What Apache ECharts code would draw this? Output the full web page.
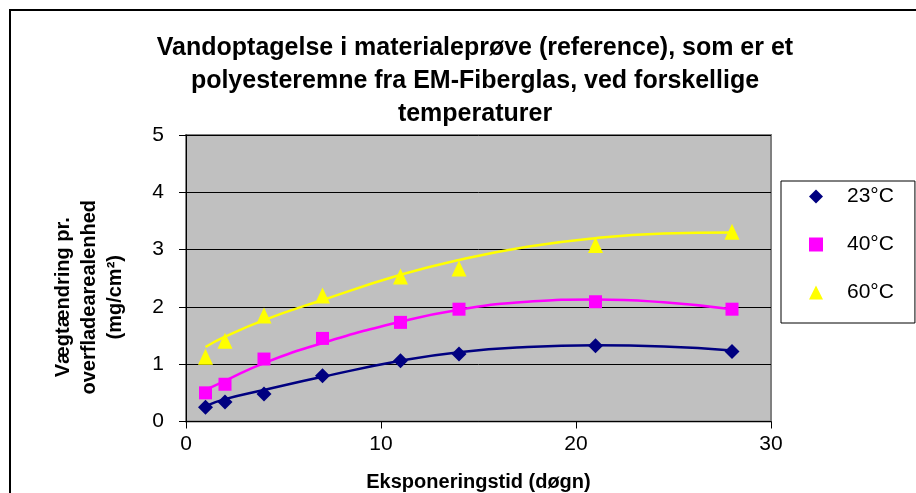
<!DOCTYPE html>
<html>
<head>
<meta charset="utf-8">
<script src="https://cdn.jsdelivr.net/npm/echarts@6/dist/echarts.min.js"></script>
<style>
html,body{margin:0;padding:0;background:#fff;}
#chart{width:916px;height:493px;}
</style>
</head>
<body>
<div id="chart"></div>
<script>
// ---- data ----
const days = [1, 2, 4, 7, 11, 14, 21, 28];
const v23 = [0.25, 0.34, 0.48, 0.80, 1.06, 1.18, 1.32, 1.22];
const v40 = [0.50, 0.65, 1.09, 1.45, 1.73, 1.96, 2.09, 1.96];
const v60 = [1.13, 1.41, 1.85, 2.20, 2.53, 2.67, 3.08, 3.31];
// trendlines
const trendX = [1, 2, 4, 7, 11, 14, 17.5, 21, 24.5, 28];
const trend23 = [0.27, 0.39, 0.55, 0.78, 1.06, 1.21, 1.30, 1.33, 1.31, 1.24];
const trend40 = [0.55, 0.71, 1.02, 1.37, 1.74, 1.95, 2.09, 2.13, 2.08, 1.96];
const trend60 = [1.30, 1.48, 1.77, 2.12, 2.56, 2.82, 3.05, 3.20, 3.28, 3.30];
const seriesNames = ['23°C', '40°C', '60°C'];
const xTicks = [0, 10, 20, 30];
const yTicks = [0, 1, 2, 3, 4, 5];
const titleText = 'Vandoptagelse i materialeprøve (reference), som er et\npolyesteremne fra EM-Fiberglas, ved forskellige\ntemperaturer';
const xTitle = 'Eksponeringstid (døgn)';
const yTitle = 'Vægtændring pr.\noverfladearealenhed\n(mg/cm²)';

const colors = ['#000080', '#FF00FF', '#FFFF00'];
const symbols = ['diamond', 'rect', 'triangle'];
const symSizes = [15, 13, [15, 16]];
const pts = [v23, v40, v60];
const trends = [trend23, trend40, trend60];
const FONT = '"Liberation Sans", Arial, sans-serif';

const zip = (xs, ys) => xs.map((x, i) => [x, ys[i]]);

const series = [];
seriesNames.forEach((n, i) => {
  series.push({
    name: n + ' trend', type: 'line', data: zip(trendX, trends[i]), smooth: true,
    showSymbol: false, symbol: 'none', lineStyle: { color: colors[i], width: 2.5 },
    z: 2, silent: true
  });
});
seriesNames.forEach((n, i) => {
  series.push({
    name: n, type: 'scatter', data: zip(days, pts[i]), symbol: symbols[i],
    symbolSize: symSizes[i], itemStyle: { color: colors[i], opacity: 1 }, z: 3
  });
});

const chart = echarts.init(document.getElementById('chart'), null, { renderer: 'canvas' });
chart.setOption({
  animation: false,
  backgroundColor: '#fff',
  textStyle: { fontFamily: FONT },
  title: {
    text: titleText, left: 470, top: 27, textAlign: 'center',
    textStyle: { fontFamily: FONT, fontWeight: 'bold', fontSize: 25, lineHeight: 33, color: '#000' }
  },
  grid: {
    left: 186, right: 145, top: 135, bottom: 71.5, show: true,
    containLabel: false, outerBoundsMode: 'none',
    backgroundColor: '#C0C0C0', borderColor: '#808080', borderWidth: 2
  },
  legend: {
    orient: 'vertical', left: 781, top: 181,
    data: seriesNames.map((n, i) => ({ name: n, icon: symbols[i] })),
    itemWidth: 14, itemHeight: 14, itemGap: 27,
    padding: [5, 21, 20, 28],
    borderColor: '#000', borderWidth: 1,
    textStyle: { fontFamily: FONT, fontSize: 21, color: '#000', padding: [0, 0, 0, 19] }
  },
  xAxis: {
    type: 'value', min: xTicks[0], max: xTicks[xTicks.length - 1], interval: 10,
    name: xTitle, nameLocation: 'middle', nameGap: 51,
    nameTextStyle: { fontFamily: FONT, fontWeight: 'bold', fontSize: 20, color: '#000' },
    axisLine: { show: true, lineStyle: { color: '#000', width: 1 } },
    axisTick: { show: true, length: 7, lineStyle: { color: '#000' } },
    axisLabel: { fontFamily: FONT, fontSize: 21, color: '#000', margin: 12 },
    splitLine: { show: false }
  },
  yAxis: {
    type: 'value', min: yTicks[0], max: yTicks[yTicks.length - 1], interval: 1,
    name: yTitle, nameLocation: 'middle', nameGap: 58, nameRotate: 90,
    nameTextStyle: { fontFamily: FONT, fontWeight: 'bold', fontSize: 20, lineHeight: 26, color: '#000', padding: [0, 38, 0, 0] },
    axisLine: { show: true, lineStyle: { color: '#000', width: 1 } },
    axisTick: { show: true, length: 7, lineStyle: { color: '#000' } },
    axisLabel: { fontFamily: FONT, fontSize: 21, color: '#000', margin: 22 },
    splitLine: { show: true, lineStyle: { color: '#000', width: 1 } }
  },
  graphic: [{
    type: 'rect', shape: { x: 10, y: 10, width: 1200, height: 1200 },
    style: { fill: null, stroke: '#000', lineWidth: 2 }, silent: true, z: -1
  }],
  series: series
});
</script>
</body>
</html>
